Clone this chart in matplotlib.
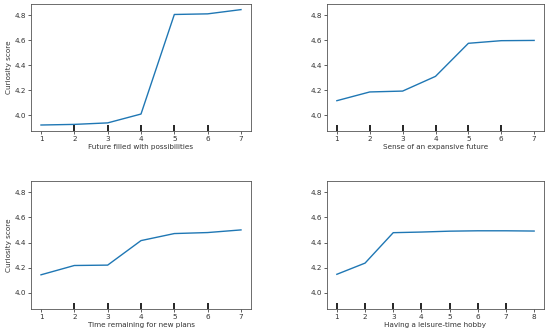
import numpy as np
import matplotlib
matplotlib.use("Agg")
import matplotlib.pyplot as plt

# partial dependence of curiosity score on four features
feat_names = ["Future filled with possibilities", "Sense of an expansive future",
              "Time remaining for new plans", "Having a leisure-time hobby"]
grid_1 = [1, 2, 3, 4, 5, 6, 7]
pd_1 = [3.920, 3.925, 3.937, 4.008, 4.806, 4.811, 4.845]
grid_2 = [1, 2, 3, 4, 5, 6, 7]
pd_2 = [4.115, 4.185, 4.192, 4.310, 4.575, 4.596, 4.598]
grid_3 = [1, 2, 3, 4, 5, 6, 7]
pd_3 = [4.144, 4.218, 4.221, 4.416, 4.472, 4.480, 4.501]
grid_4 = [1, 2, 3, 4, 5, 6, 7, 8]
pd_4 = [4.148, 4.237, 4.479, 4.484, 4.491, 4.494, 4.494, 4.492]

# deciles of each feature (rug marks)
deciles_1 = [2, 3, 4, 5, 6]
deciles_2 = [1, 2, 3, 4, 5, 6]
deciles_3 = [2, 3, 4, 5, 6]
deciles_4 = [1, 2, 3, 4, 5, 6, 7]

grids = [grid_1, grid_2, grid_3, grid_4]
pds = [pd_1, pd_2, pd_3, pd_4]
deciles = [deciles_1, deciles_2, deciles_3, deciles_4]

W, H = 550, 334
fig = plt.figure(figsize=(W / 100, H / 100), dpi=100)

# axes boxes in pixels: left, top, right, bottom
boxes = [(31, 4, 251, 131), (327, 4, 544, 131),
         (31, 181, 251, 309), (327, 181, 544, 309)]

fs = 5.2
txt_color = "#333333"
for i, (l, t, r, b) in enumerate(boxes):
    ax = fig.add_axes([l / W, 1 - b / H, (r - l) / W, (b - t) / H])
    ax.plot(grids[i], pds[i], color="#1f77b4", linewidth=1.0)
    ax.vlines(deciles[i], 0, 0.05, transform=ax.get_xaxis_transform(),
              color="black", linewidth=1.2)
    ax.set_ylim(3.872, 4.89)
    ax.set_yticks([4.0, 4.2, 4.4, 4.6, 4.8])
    ax.set_xticks(grids[i])
    ax.set_xlabel(feat_names[i], fontsize=fs, labelpad=1.5, color=txt_color)
    if i % 2 == 0:
        ax.set_ylabel("Curiosity score", fontsize=fs, labelpad=1.5, color=txt_color)
    ax.tick_params(labelsize=fs, length=2.2, width=0.6, pad=1.5,
                   colors="#444444", labelcolor=txt_color)
    for sp in ax.spines.values():
        sp.set_linewidth(0.6)
        sp.set_color("#555555")

fig.savefig("out.png", dpi=100)
